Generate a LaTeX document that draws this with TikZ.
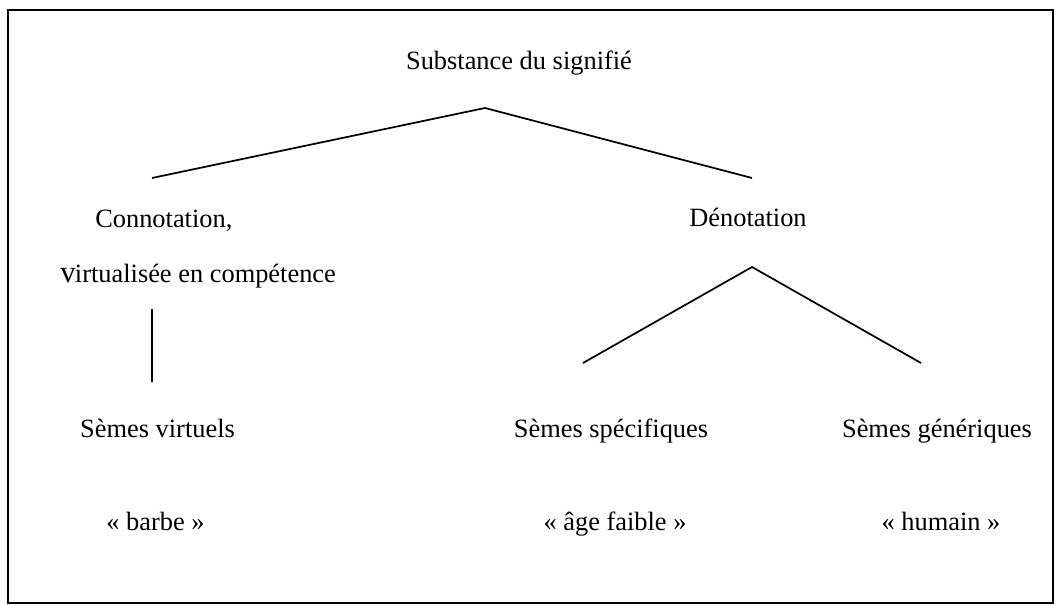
\documentclass[tikz,border=0pt]{standalone}
\usepackage{fontspec}
\setmainfont{Liberation Serif}
\begin{document}
\begin{tikzpicture}[x=0.75pt,y=-0.75pt,
  lbl/.style={anchor=base,inner sep=0pt,font=\fontsize{19.8}{24}\selectfont},
  lblw/.style={anchor=base west,inner sep=0pt,font=\fontsize{19.8}{24}\selectfont},
  conn/.style={line width=1.3pt},
  frame/.style={line width=1.5pt}]
\useasboundingbox (0,0) rectangle (1056,605);
\draw[frame] (8,10) rectangle (1053,603);
% texts
\node[lbl] (sub) at (519,70) {Substance du signifié};
\node[lblw] (con) at (95,228) {Connotation,};
\node[lblw] (vir) at (60,283) {{\fontsize{23}{24}\selectfont v}\kern-0.5pt irtualisée en compétence};
\node[lbl] (den) at (748,227) {Dénotation};
\node[lbl] (sv) at (157.5,438) {Sèmes virtuels};
\node[lbl] (ss) at (611,438) {Sèmes spécifiques};
\node[lbl] (sg) at (937,438) {Sèmes génériques};
\node[lbl] (qb) at (155.5,530) {« barbe »};
\node[lbl] (qa) at (615,530) {« âge faible »};
\node[lbl] (qh) at (941,530) {« humain »};
% connector points
\coordinate (a1) at (485,108);
\coordinate (a1l) at (152,178);
\coordinate (a1r) at (752,178);
\coordinate (a2) at (752,267);
\coordinate (a2l) at (583,363);
\coordinate (a2r) at (921,363);
\coordinate (vt) at (152,309);
\coordinate (vb) at (152,382);
\draw[conn] (a1l) -- (a1) -- (a1r);
\draw[conn] (a2l) -- (a2) -- (a2r);
\draw[conn] (vt) -- (vb);
\end{tikzpicture}
\end{document}
